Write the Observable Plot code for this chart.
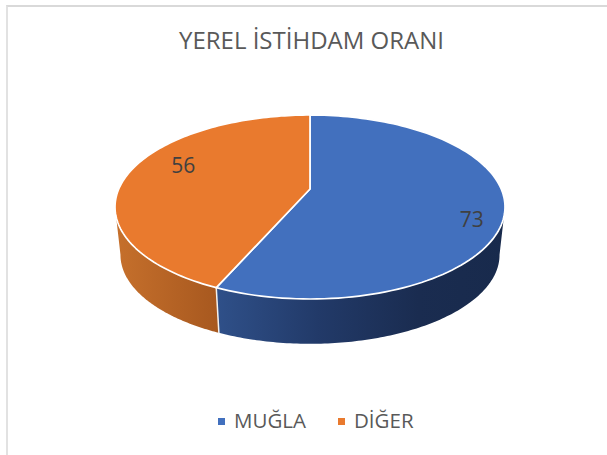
<!DOCTYPE html>
<html><head><meta charset="utf-8">
<script src="https://cdn.jsdelivr.net/npm/d3@7"></script>
<script src="https://cdn.jsdelivr.net/npm/@observablehq/plot@0.6"></script>
<style>
html,body{margin:0;padding:0;background:#fff;overflow:hidden}
#frame{position:relative;width:601px;height:449px;margin:5px 0 0 6px;border-top:2px solid #d9d9d9;border-left:2px solid #e2e2e2;box-sizing:content-box;font-family:"Open Sans",sans-serif;overflow:hidden}
#title{position:absolute;left:-8px;width:623px;top:18px;text-align:center;font-size:24px;line-height:30px;color:#595959}
#chart{position:absolute;left:-8px;top:63px;width:623px}
#chart svg{display:block;max-width:none}
#legend{position:absolute;left:0;top:398px;width:100%;height:30px;color:#595959;font-size:20.5px;line-height:30px}
#legend span{position:absolute;white-space:nowrap}
#legend i{position:absolute;width:7px;height:7px;top:13px}
</style></head>
<body>
<div id="frame">
  <div id="title"></div>
  <div id="chart"></div>
  <div id="legend"></div>
</div>
<script>
const titleText = "YEREL İSTİHDAM ORANI";
const categories = ["MUĞLA", "DİĞER"];
const values = [73, 56];
const colors = ["#4270be", "#e97a2e"];
const wallStops = [
  [[0, "#2f5089"], [0.35, "#223a69"], [0.7, "#1a2c50"], [1, "#182a4c"]],
  [[0, "#c6702c"], [1, "#a7581f"]]
];
const labelOffsets = [[-3, 15], [27, -8]];

// perspective of the disc
const tilt = -0.196, depth = 0.52, shrinkX = 0.972, shrinkY = 0.967;
const project = t => {
  const u = Math.sin(t), v = -Math.cos(t), w = 1 + tilt * v;
  return {x: u * Math.sqrt(1 - tilt * tilt) / w, y: (v + tilt) / w};
};
const lower = p => ({x: p.x * shrinkX, y: p.y * shrinkY + depth});
const apex = {x: 0, y: tilt};
const sweep = (a, b) => d3.range(0, 121).map(i => a + (b - a) * i / 120);

const arcs = d3.pie().sort(null).startAngle(0).endAngle(2 * Math.PI)(values);
const sideStart = Math.PI - Math.asin(Math.sqrt(1 - tilt * tilt));
const sideEnd = 2 * Math.PI - sideStart;

const tops = categories.flatMap((name, i) => [
  {name, ...apex},
  ...sweep(arcs[i].startAngle, arcs[i].endAngle).map(t => ({name, ...project(t)}))
]);
const wall = i => {
  const a = Math.max(arcs[i].startAngle, sideStart), b = Math.min(arcs[i].endAngle, sideEnd);
  const edge = sweep(a, b).map(project);
  return [...edge, ...edge.slice().reverse().map(lower)];
};
const seamAngle = arcs[0].endAngle;
const seam = [project(seamAngle), lower(project(seamAngle))];
const labels = categories.map((name, i) => {
  const mid = (arcs[i].startAngle + arcs[i].endAngle) / 2;
  const w = 1 + tilt * (-Math.cos(mid) * 0.85);
  return {
    name,
    text: String(values[i]),
    x: Math.sin(mid) * 0.85 * Math.sqrt(1 - tilt * tilt) / w,
    y: (-Math.cos(mid) * 0.85 + tilt) / w
  };
});

const defs = (index, {x}) => {
  const d = d3.create("svg:defs");
  wallStops.forEach((stops, i) => {
    const pts = wall(i).map(p => p.x);
    const g = d.append("linearGradient").attr("id", "wall" + i)
      .attr("gradientUnits", "userSpaceOnUse")
      .attr("x1", x(d3.min(pts))).attr("x2", x(d3.max(pts))).attr("y1", 0).attr("y2", 0);
    stops.forEach(([o, c]) => g.append("stop").attr("offset", o).attr("stop-color", c));
  });
  return d.node();
};

const plot = Plot.plot({
  width: 623, height: 300,
  margin: 0,
  x: {domain: [-1, 1], range: [114.5, 504.5], axis: null},
  y: {domain: [-1, 1], range: [44.5, 228.5], axis: null},
  color: {domain: categories, range: colors},
  marks: [
    defs,
    ...categories.map((_, i) => Plot.line(wall(i), {x: "x", y: "y", fill: `url(#wall${i})`, stroke: null, curve: "linear-closed"})),
    Plot.line(seam, {x: "x", y: "y", stroke: "#f4f1ee", strokeWidth: 1.5}),
    Plot.line(tops, {x: "x", y: "y", z: "name", fill: "name", stroke: "white", strokeWidth: 1.7, curve: "linear-closed"}),
    ...labels.map((d, i) => Plot.text([d], {
      x: "x", y: "y", text: "text", fill: "#404040",
      fontSize: 21, fontFamily: "Open Sans, sans-serif",
      dx: labelOffsets[i][0], dy: labelOffsets[i][1]
    }))
  ]
});
document.getElementById("chart").append(plot);
document.getElementById("title").textContent = titleText;
const legend = d3.select("#legend");
const legendX = [[210, 226], [330, 346]];
categories.forEach((name, i) => {
  legend.append("i").style("left", legendX[i][0] + "px").style("background", colors[i]);
  legend.append("span").style("left", legendX[i][1] + "px").text(name);
});
</script>
</body></html>
